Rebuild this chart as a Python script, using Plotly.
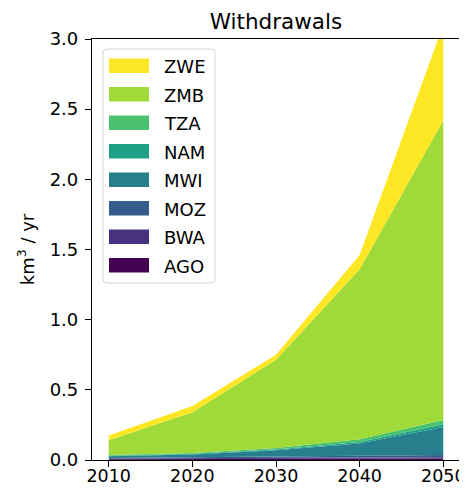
import plotly.graph_objects as go

years = [2010, 2020, 2030, 2040, 2050]
countries = ["AGO", "BWA", "MOZ", "MWI", "NAM", "TZA", "ZMB", "ZWE"]
colors = ["#440154", "#46327e", "#365c8d", "#277f8e", "#1fa187", "#4ac16d", "#a0da39", "#fde725"]

AGO = [0.005, 0.006, 0.007, 0.008, 0.010]
BWA = [0.005, 0.006, 0.007, 0.008, 0.010]
MOZ = [0.005, 0.008, 0.010, 0.012, 0.015]
MWI = [0.012, 0.020, 0.045, 0.090, 0.200]
NAM = [0.003, 0.004, 0.006, 0.010, 0.020]
TZA = [0.005, 0.006, 0.010, 0.020, 0.030]
ZMB = [0.105, 0.290, 0.630, 1.212, 2.135]
ZWE = [0.035, 0.045, 0.035, 0.100, 0.680]

series = [AGO, BWA, MOZ, MWI, NAM, TZA, ZMB, ZWE]
yticks = [0, 0.5, 1.0, 1.5, 2.0, 2.5, 3.0]

FONT = "DejaVu Sans"
OFF = 8                   # page body has an 8px margin
W, H = 467 - OFF, 492 - 2 * OFF
PL, PR, PT, PB = 92, 460, 39, 460   # plot area in screenshot pixels

fig = go.Figure()
for name, vals, col in zip(countries, series, colors):
    fig.add_trace(go.Scatter(
        x=years, y=vals, name=name, mode="lines",
        stackgroup="one", line=dict(width=0, color=col),
        fillcolor=col, showlegend=False,
    ))

def px(x):
    return (x - PL) / (PR - PL)

def py(y):
    return (PB - y) / (PB - PT)

shapes = []
annotations = []

# legend frame (rounded)
x0, x1, y0, y1, r = 103, 215, 49, 283, 4
path = (f"M {px(x0 + r)},{py(y0)} L {px(x1 - r)},{py(y0)} "
        f"Q {px(x1)},{py(y0)} {px(x1)},{py(y0 + r)} "
        f"L {px(x1)},{py(y1 - r)} Q {px(x1)},{py(y1)} {px(x1 - r)},{py(y1)} "
        f"L {px(x0 + r)},{py(y1)} Q {px(x0)},{py(y1)} {px(x0)},{py(y1 - r)} "
        f"L {px(x0)},{py(y0 + r)} Q {px(x0)},{py(y0)} {px(x0 + r)},{py(y0)} Z")
shapes.append(dict(type="path", path=path, xref="paper", yref="paper",
                   fillcolor="rgba(255,255,255,0.8)", line=dict(color="#d5d5d5", width=1),
                   layer="above"))

order = list(range(len(countries)))[::-1]
for i, k in enumerate(order):
    cy = 65.8 + i * 28.5
    shapes.append(dict(type="rect", xref="paper", yref="paper",
                       x0=px(109), x1=px(149), y0=py(cy - 7.3), y1=py(cy + 7.3),
                       fillcolor=colors[k], line=dict(width=0), layer="above"))
    annotations.append(dict(text=countries[k], xref="paper", yref="paper",
                            x=px(162), y=py(cy + 1), xanchor="left", yanchor="middle",
                            showarrow=False, font=dict(family=FONT, size=18, color="black")))

fig.update_layout(
    width=W, height=H,
    margin=dict(l=PL - OFF, r=W - (PR - OFF), t=PT - OFF, b=H - (PB - OFF), autoexpand=False),
    plot_bgcolor="white", paper_bgcolor="white",
    font=dict(family=FONT, size=18, color="black"),
    title=dict(text="Withdrawals", x=0.5, xref="paper", xanchor="center",
               y=1 - 13 / H, yref="container", yanchor="middle",
               font=dict(size=21.5, color="black")),
    showlegend=False,
    shapes=shapes,
    annotations=annotations,
    xaxis=dict(range=[2008, 2052], tickmode="array", tickvals=years, automargin=False,
               ticks="outside", ticklen=6, tickwidth=1.2, tickcolor="black", showgrid=False,
               zeroline=False, showline=True, linecolor="black", linewidth=1.2, mirror=True,
               tickfont=dict(size=17.5), ticklabelstandoff=-6),
    yaxis=dict(range=[0, 3], tickmode="array", tickvals=yticks, automargin=False,
               tickformat=".1f", ticks="outside", ticklen=6, tickwidth=1.2, tickcolor="black",
               showgrid=False, zeroline=False, showline=True, linecolor="black",
               linewidth=1.2, mirror=True, tickfont=dict(size=18), ticklabelstandoff=3,
               title=dict(text="km<sup>3</sup> / yr", standoff=10, font=dict(size=18))),
)

fig.write_html("out.html")
